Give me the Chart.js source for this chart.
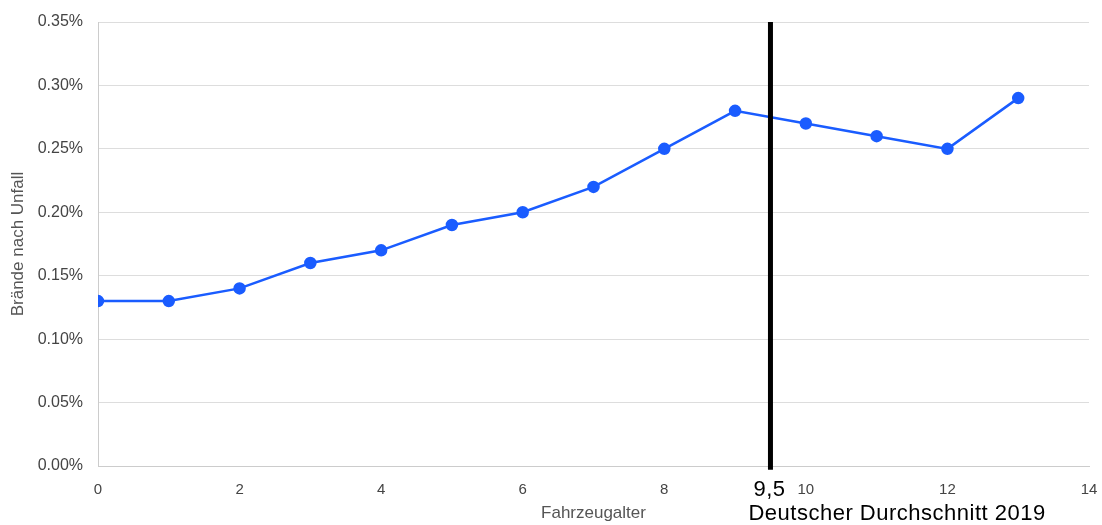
<!DOCTYPE html>
<html>
<head>
<meta charset="utf-8">
<script src="https://cdn.jsdelivr.net/npm/chart.js@4"></script>
<style>
  body { margin: 0; background: #fff; }
  #wrap { width: 1102px; height: 525px; }
</style>
</head>
<body>
<div id="wrap"><canvas id="chart"></canvas></div>
<script>
// vehicle age vs. share of fires after accident
const ages = [0, 1, 2, 3, 4, 5, 6, 7, 8, 9, 10, 11, 12, 13];
const rates = [0.13, 0.13, 0.14, 0.16, 0.17, 0.19, 0.20, 0.22, 0.25, 0.28, 0.27, 0.26, 0.25, 0.29];
const xTicks = [0, 2, 4, 6, 8, 10, 12, 14];
const yTicks = [0, 0.05, 0.10, 0.15, 0.20, 0.25, 0.30, 0.35];
const avgAge = 9.5;
const avgLabel = '9,5';
const avgText = 'Deutscher Durchschnitt 2019';

const font = 'Liberation Sans, Arial, sans-serif';

// label under the average line
const avgLabels = {
  id: 'avgLabels',
  afterDraw(chart) {
    const ctx = chart.ctx;
    const x = chart.scales.x.getPixelForValue(avgAge);
    ctx.save();
    ctx.fillStyle = '#000';
    ctx.font = '22px ' + font;
    ctx.letterSpacing = '0.5px';
    ctx.textBaseline = 'middle';
    ctx.textAlign = 'center';
    ctx.fillText(avgLabel, x - 1, 490);
    ctx.textAlign = 'left';
    ctx.fillText(avgText, x - 22, 514);
    ctx.restore();
  }
};

const ctx = document.getElementById('chart');
new Chart(ctx, {
  type: 'line',
  data: {
    datasets: [{
      data: ages.map((a, i) => ({ x: a, y: rates[i] })),
      borderColor: '#1a5cff',
      backgroundColor: '#1a5cff',
      borderWidth: 2.5,
      pointRadius: 5,
      pointHoverRadius: 5,
      fill: false,
      order: 2
    }, {
      data: [{ x: avgAge, y: -0.003 }, { x: avgAge, y: yTicks[yTicks.length - 1] }],
      borderColor: '#000',
      borderWidth: 5,
      pointRadius: 0,
      fill: false,
      clip: false,
      order: 1
    }]
  },
  options: {
    responsive: true,
    maintainAspectRatio: false,
    animation: false,
    layout: { padding: { top: 22, right: 13, left: 0, bottom: 0 } },
    plugins: { legend: { display: false }, tooltip: { enabled: false } },
    scales: {
      x: {
        type: 'linear',
        min: 0,
        max: 14,
        afterBuildTicks: s => { s.ticks = xTicks.map(v => ({ value: v })); },
        grid: { display: false, drawTicks: false },
        border: { color: '#cccccc', width: 1 },
        ticks: { color: '#444', font: { family: font, size: 15 }, padding: 15 },
        title: { display: true, text: 'Fahrzeugalter', color: '#555', font: { family: font, size: 17 }, padding: { top: 0, bottom: 1 } },
        afterFit: s => { s.height = 59; s.paddingRight = 0; s.paddingLeft = 0; }
      },
      y: {
        min: 0,
        max: 0.35,
        afterBuildTicks: s => { s.ticks = yTicks.map(v => ({ value: v })); },
        grid: { color: '#dddddd', drawTicks: false },
        border: { color: '#cccccc', width: 1 },
        ticks: { color: '#444', font: { family: font, size: 16 }, padding: 15, callback: v => v.toFixed(2) + '%' },
        title: { display: true, text: 'Brände nach Unfall', color: '#555', font: { family: font, size: 17 }, padding: { top: 8, bottom: 0 } },
        afterFit: s => { s.width = 98; s.paddingTop = 0; s.paddingBottom = 0; }
      }
    }
  },
  plugins: [avgLabels]
});
</script>
</body>
</html>
